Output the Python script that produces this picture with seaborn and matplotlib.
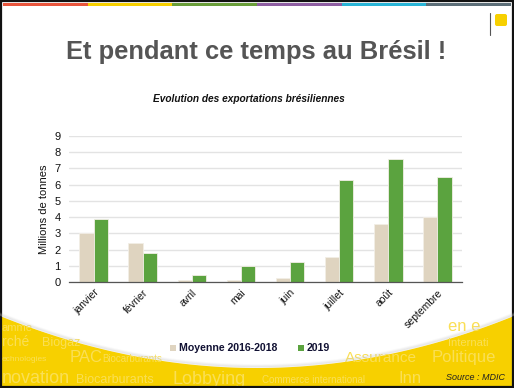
import numpy as np
import pandas as pd
import matplotlib
matplotlib.use("Agg")
import matplotlib.pyplot as plt
import seaborn as sns
from matplotlib.patches import Rectangle, FancyBboxPatch, Polygon

months = ["janvier", "février", "avril", "mai", "juin", "juillet", "août", "septembre"]
moyenne = [3.0, 2.38, 0.15, 0.1, 0.22, 1.52, 3.55, 4.03]
y2019 = [3.87, 1.8, 0.42, 0.97, 1.23, 6.3, 7.6, 6.47]
series_names = ["Moyenne 2016-2018", "2019"]
yticks = list(range(0, 10))

sns.set_theme(style="white")
plt.rcParams["font.family"] = ["Liberation Sans", "DejaVu Sans"]

df = pd.DataFrame({
    "mois": months * 2,
    "valeur": moyenne + y2019,
    "serie": [series_names[0]] * len(months) + [series_names[1]] * len(months),
})

W, H = 514, 388
fig = plt.figure(figsize=(W / 100, H / 100), dpi=100)

# background decoration axes (pixel coordinates)
bg = fig.add_axes([0, 0, 1, 1], zorder=0)
bg.set_xlim(0, W)
bg.set_ylim(H, 0)
bg.axis("off")
bg.add_patch(Rectangle((0, 0), W, H, facecolor="white", edgecolor="none"))

# yellow bottom band with white curved cutout
xs = np.linspace(0, W, 200)
curve = 316 + 52 * (1 - ((xs - W / 2) / (W / 2)) ** 2)
poly = np.column_stack([np.r_[xs, W, 0], np.r_[curve, H, H]])
bg.add_patch(Polygon(poly, closed=True, facecolor="#F7D000", edgecolor="none"))
for k, a in enumerate([0.30, 0.20, 0.10]):
    bg.plot(xs, curve - 1 - k, color="#C8C8C8", alpha=a, lw=1.2)

# faint word-cloud
words = [
    (2, 331, "amme", 8), (448, 331, "en e", 12),
    (2, 346, "rché", 10), (42, 346, "Biogaz", 9), (448, 346, "Internati", 8),
    (2, 361, "echnologies", 6), (70, 362, "PAC", 12), (102, 362, "Biocarburants", 7),
    (345, 362, "Assurance", 11), (432, 362, "Politique", 12),
    (2, 383, "novation", 13), (76, 383, "Biocarburants", 9), (172, 384, "Lobbying", 13),
    (262, 383, "Commerce international", 7), (398, 383, "Inn", 12),
]
for x, y, t, s in words:
    bg.text(x, y, t, fontsize=s, color="#FADF55", va="baseline", ha="left", zorder=1)

# top colour stripe
stripe_cols = ["#E8553C", "#F7D000", "#6A9E3A", "#8E5EA2", "#29B4D6", "#5C6E78"]
sw = (W - 6) / len(stripe_cols)
for i, c in enumerate(stripe_cols):
    bg.add_patch(Rectangle((3 + i * sw, 3), sw, 3, facecolor=c, edgecolor="none"))

# logo
bg.plot([490, 490], [13, 35], color="#555555", lw=0.8)
bg.add_patch(FancyBboxPatch((495, 14), 12, 12, boxstyle="round,pad=0,rounding_size=2",
                            facecolor="#F7D000", edgecolor="none"))

# frame
bg.add_patch(Rectangle((1, 1), W - 2, H - 2, facecolor="none", edgecolor="#111111", lw=1.6))

# titles
bg.text(256, 52, "Et pendant ce temps au Brésil !", fontsize=18.4, fontweight="bold",
        color="#555555", ha="center", va="center")
bg.text(249, 99, "Evolution des exportations brésiliennes", fontsize=7.3, fontweight="bold",
        style="italic", color="#111111", ha="center", va="center")
bg.text(505, 378, "Source : MDIC", fontsize=6.5, style="italic", color="#222222",
        ha="right", va="center", zorder=3)

# chart axes
x0, x1 = 69, 462
ytop, ybot = 136, 282
ax = fig.add_axes([x0 / W, 1 - ybot / H, (x1 - x0) / W, (ybot - ytop) / H], zorder=2)
ax.patch.set_alpha(0)

palette = {series_names[0]: "#DFD4C0", series_names[1]: "#5BA33F"}
sns.barplot(data=df, x="mois", y="valeur", hue="serie", order=months,
            hue_order=series_names, palette=palette, width=0.58, gap=0,
            saturation=1, edgecolor="#F2EEE6", linewidth=0.6, ax=ax, legend=False)

ax.set_ylim(0, 9)
ax.set_xlim(-0.5, len(months) - 0.5)
ax.set_yticks(yticks)
ax.set_yticklabels([str(v) for v in yticks], fontsize=8, color="#111111")
ax.yaxis.grid(True, color="#E3E3E3", lw=1.0)
ax.set_axisbelow(True)
for s in ["top", "right", "left"]:
    ax.spines[s].set_visible(False)
ax.spines["bottom"].set_color("#555555")
ax.spines["bottom"].set_linewidth(0.9)
ax.tick_params(axis="y", length=0, pad=6)
ax.set_xticks(range(len(months)))
ax.set_xticklabels(months, rotation=45, ha="right", rotation_mode="anchor",
                   fontsize=7.5, color="#111111")
ax.tick_params(axis="x", which="major", length=0, pad=4)
ax.set_xticks(np.arange(-0.5, len(months)), minor=True)
ax.tick_params(axis="x", which="minor", length=4, width=0.9, color="#555555", direction="out")
ax.set_xlabel("")
ax.set_ylabel("Millions de tonnes", fontsize=8, color="#111111", labelpad=4)

# legend
bg.add_patch(Rectangle((170, 344.5), 6, 6, facecolor=palette[series_names[0]], edgecolor="none", zorder=3))
bg.text(179, 348, series_names[0], fontsize=7.6, fontweight="bold", color="#111133",
        ha="left", va="center", zorder=3)
bg.add_patch(Rectangle((298, 344.5), 6, 6, facecolor=palette[series_names[1]], edgecolor="none", zorder=3))
bg.text(307, 348, series_names[1], fontsize=7.6, fontweight="bold", color="#111133",
        ha="left", va="center", zorder=3)

fig.savefig("out.png", dpi=100)
